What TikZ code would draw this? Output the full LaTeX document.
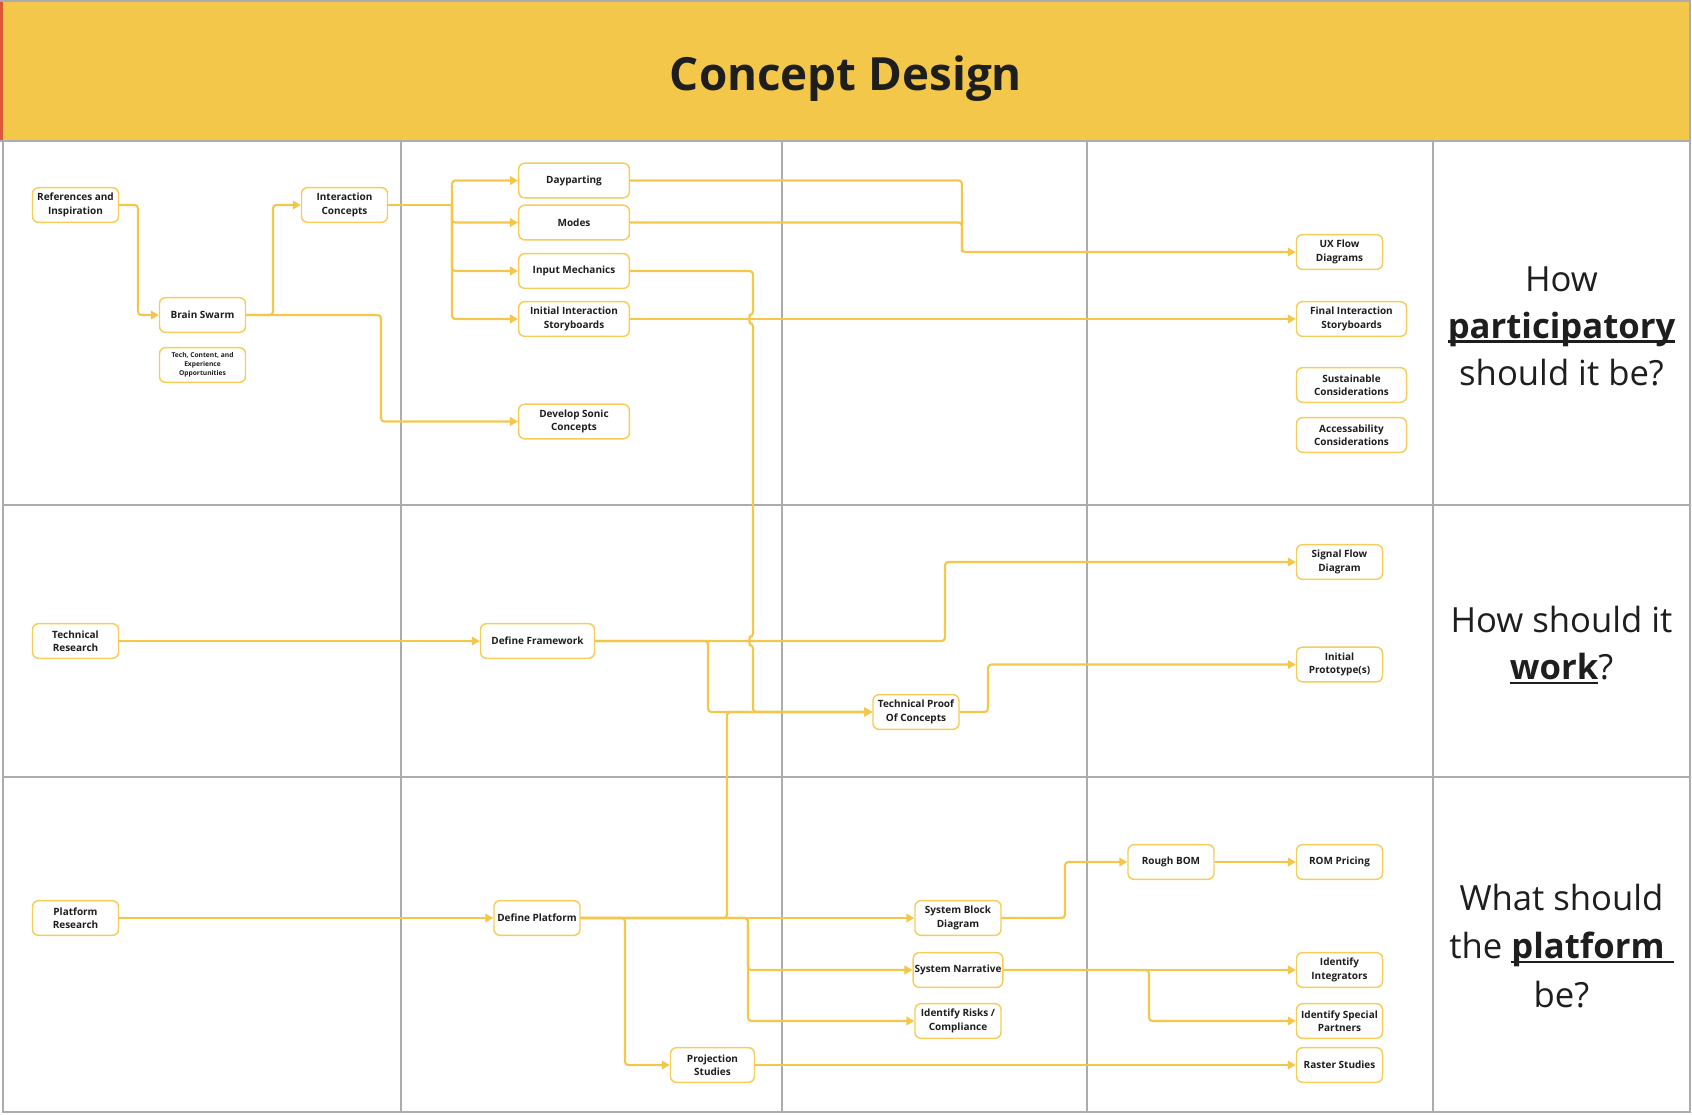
\documentclass[tikz,border=0pt]{standalone}
\usepackage{fontspec}
\setmainfont{Open Sans}
\usepackage{xcolor}
\definecolor{Col1}{RGB}{242,199,74}
\definecolor{Col2}{RGB}{245,205,88}
\definecolor{Col3}{RGB}{172,172,172}
\definecolor{Col4}{RGB}{30,30,30}
\definecolor{Col5}{RGB}{222,86,58}
\usetikzlibrary{arrows.meta}
\tikzstyle{Task}=[rectangle,rounded corners=4.5pt,draw=Col2,fill=white,
line width=1.1pt,minimum width=64.5pt,minimum height=26pt,inner sep=1pt,
align=center,text=Col4,font=\bfseries\fontsize{7.5}{10}\selectfont]
\tikzstyle{Note}=[Task,font=\bfseries\fontsize{5}{6.75}\selectfont]
\tikzstyle{Edge}=[draw=Col1,line width=1.6pt,rounded corners=2.5pt]
\tikzstyle{Arrow}=[Edge,-{Triangle[length=6pt,width=6.5pt]}]
\tikzstyle{Grid}=[draw=Col3,line width=1.5pt]
\tikzstyle{Question}=[align=center,text=Col4,
font=\fontsize{26}{35.25}\selectfont]
\newcommand{\Key}[1]{\setbox0=\hbox{\bfseries#1}%
\rlap{\rule[-0.13em]{\wd0}{0.065em}}\box0}

\begin{document}
\begin{tikzpicture}[x=0.75pt,y=-0.75pt]
            \useasboundingbox(0,0)rectangle(1692,1114);
            % frame
            \fill[Col1](2,1)rectangle(1690,141);
            \fill[Col5](0,1)rectangle(2.5,141);
            \draw[Grid](0,1)--(1690,1)--(1690,1112)--(3,1112)--(3,141);
            \draw[Grid](0,141)--(1690,141);
            \foreach \y in {505,777}
                \draw[Grid](3,\y)--(1690,\y);
            \foreach \x in {401,782,1087,1433}
                \draw[Grid](\x,141)--(\x,1112);
            \node[font=\bfseries\fontsize{34.3}{40}\selectfont,text=Col4,
                anchor=base](title)at(846,90){Concept Design};
            %
            \node[Question](q1)at(1561.5,326){How\\
                \Key{participatory}\\should it be?};
            \node[Question](q2)at(1561.5,645){How should it\\
                \Key{work}?};
            \node[Question,font=\fontsize{26}{36.4}\selectfont](q3)
                at(1561.5,946){What should\\
                the \Key{platform\ }\\be?};
            %
            \node[Task](ref)at(75.5,205){References and\\Inspiration};
            \node[Task](bs)at(202.5,315){Brain Swarm};
            \node[Note](tco)at(202.5,365){Tech, Content, and\\Experience\\
                Opportunities};
            \node[Task](ic)at(344.5,205){Interaction\\Concepts};
            \node[Task,minimum width=83pt](dp)at(574,180.5){Dayparting};
            \node[Task,minimum width=83pt](md)at(574,222.5){Modes};
            \node[Task,minimum width=83pt](im)at(574,271){Input Mechanics};
            \node[Task,minimum width=83pt](iis)at(574,319)
                {Initial Interaction\\Storyboards};
            \node[Task,minimum width=83pt](dsc)at(574,421.5)
                {Develop Sonic\\Concepts};
            \node[Task](ux)at(1339.5,252){UX Flow\\Diagrams};
            \node[Task,minimum width=82.5pt](fis)at(1351.5,319)
                {Final Interaction\\Storyboards};
            \node[Task,minimum width=82.5pt](sc)at(1351.5,385)
                {Sustainable\\Considerations};
            \node[Task,minimum width=82.5pt](ac)at(1351.5,435)
                {Accessability\\Considerations};
            %
            \node[Task](tr)at(75.5,641){Technical\\Research};
            \node[Task,minimum width=85.5pt](dfw)at(537.5,641)
                {Define Framework};
            \node[Task](tpc)at(916,712){Technical Proof\\Of Concepts};
            \node[Task](sfd)at(1339.5,562){Signal Flow\\Diagram};
            \node[Task](ip)at(1339.5,664.5){Initial\\Prototype(s)};
            %
            \node[Task](pr)at(75.5,918){Platform\\Research};
            \node[Task](dpl)at(537,918){Define Platform};
            \node[Task](sbd)at(958,918){System Block\\Diagram};
            \node[Task](sn)at(958,970){System Narrative};
            \node[Task](irc)at(958,1021){Identify Risks /\\Compliance};
            \node[Task,minimum width=63pt](ps)at(712.5,1065)
                {Projection\\Studies};
            \node[Task](rb)at(1171,862){Rough BOM};
            \node[Task](rp)at(1339.5,862){ROM Pricing};
            \node[Task](ii)at(1339.5,970){Identify\\Integrators};
            \node[Task](isp)at(1339.5,1021){Identify Special\\Partners};
            \node[Task](rs)at(1339.5,1065){Raster Studies};
            %
            \coordinate(j1)at(138,0);
            \coordinate(j2)at(273,0);
            \coordinate(j3)at(381,0);
            \coordinate(j4)at(452,0);
            \coordinate(j5)at(962,0);
            \coordinate(j6)at(753,0);
            \coordinate(j7)at(708,0);
            \coordinate(j8)at(945,0);
            \coordinate(j9)at(988,0);
            \coordinate(j10)at(727,0);
            \coordinate(j11)at(625,0);
            \coordinate(j12)at(748,0);
            \coordinate(j13)at(1065,0);
            \coordinate(j14)at(1149,0);
            \coordinate(h1)at(753,319);
            \coordinate(h2)at(753,641);
            %
            \draw[Arrow](ref.east)-|(j1|-bs)--(bs.west);
            \draw[Arrow](bs.east)-|(j2|-ic)--(ic.west);
            \draw[Arrow](bs.east)-|(j3|-dsc)--(dsc.west);
            \draw[Edge](ic.east)--(j4|-ic);
            \draw[Arrow](j4|-ic)|-(dp.west);
            \draw[Arrow](j4|-ic)|-(md.west);
            \draw[Arrow](j4|-ic)|-(im.west);
            \draw[Arrow](j4|-ic)|-(iis.west);
            \draw[Arrow](dp.east)-|(j5|-ux)--(ux.west);
            \draw[Edge](md.east)-|(j5|-ux);
            \draw[Arrow](iis)--(fis);
            \draw[Arrow](im.east)-|([yshift=3pt]h1)
                arc[start angle=270,end angle=90,radius=4]
                --([yshift=3pt]h2)
                arc[start angle=270,end angle=90,radius=4]
                |-(tpc.west);
            %
            \draw[Arrow](tr)--(dfw);
            \draw[Arrow](dfw.east)-|(j8|-sfd)--(sfd.west);
            \draw[Arrow](dfw.east)-|(j7|-tpc)--(tpc.west);
            \draw[Arrow](tpc.east)-|(j9|-ip)--(ip.west);
            %
            \draw[Arrow](pr)--(dpl);
            \draw[Arrow](dpl)--(sbd);
            \draw[Arrow](dpl.east)-|(j10|-tpc)--(tpc.west);
            \draw[Arrow](dpl.east)-|(j11|-ps)--(ps.west);
            \draw[Arrow](dpl.east)-|(j12|-sn)--(sn.west);
            \draw[Arrow](dpl.east)-|(j12|-irc)--(irc.west);
            \draw[Arrow](sbd.east)-|(j13|-rb)--(rb.west);
            \draw[Arrow](rb)--(rp);
            \draw[Arrow](sn)--(ii);
            \draw[Arrow](sn.east)-|(j14|-isp)--(isp.west);
            \draw[Arrow](ps)--(rs);
        \end{tikzpicture}
\end{document}
